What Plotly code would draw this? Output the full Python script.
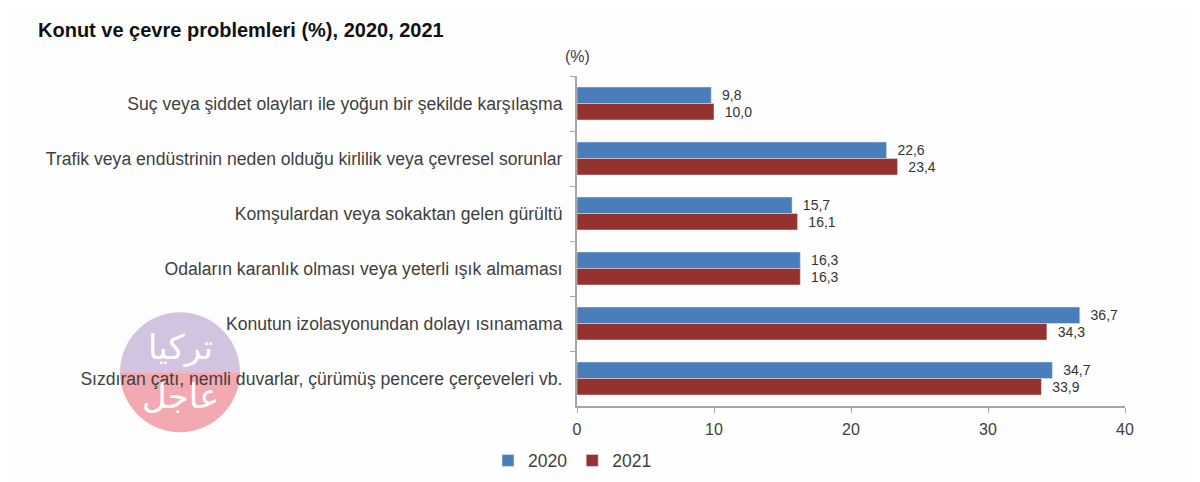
import plotly.graph_objects as go

categories = [
    "Suç veya şiddet olayları ile yoğun bir şekilde karşılaşma",
    "Trafik veya endüstrinin neden olduğu kirlilik veya çevresel sorunlar",
    "Komşulardan veya sokaktan gelen gürültü",
    "Odaların karanlık olması veya yeterli ışık almaması",
    "Konutun izolasyonundan dolayı ısınamama",
    "Sızdıran çatı, nemli duvarlar, çürümüş pencere çerçeveleri vb.",
]
values_2020 = [9.8, 22.6, 15.7, 16.3, 36.7, 34.7]
values_2021 = [10.0, 23.4, 16.1, 16.3, 34.3, 33.9]
x_ticks = [0, 10, 20, 30, 40]

W = 1200
H = 482
FONT = "Liberation Sans"
GREY = "#404040"
# the page puts the figure 8px in from the corner, so layout numbers are 8 less
PLOT_L = 569
PLOT_R = 1117
PLOT_T = 68
PLOT_B = 401


def px_x(x):
    return (x - PLOT_L) / (PLOT_R - PLOT_L)


def px_y(y):
    return (PLOT_B - y) / (PLOT_B - PLOT_T)


fig = go.Figure()
fig.add_trace(go.Bar(y=categories, x=values_2020, name="2020", orientation="h",
                     marker_color="#4a7ebb", texttemplate="\u00a0\u00a0%{x:.1f}",
                     textposition="outside", cliponaxis=False))
fig.add_trace(go.Bar(y=categories, x=values_2021, name="2021", orientation="h",
                     marker_color="#96322d", texttemplate="\u00a0\u00a0%{x:.1f}",
                     textposition="outside", cliponaxis=False))

# watermark: two half discs, anchored in pixels
k = 33
r = 60
top_half = f"M -{r},0 C -{r},{k} -{k},{r} 0,{r} C {k},{r} {r},{k} {r},0 Z"
bottom_half = f"M -{r},0 C -{r},-{k} -{k},-{r} 0,-{r} C {k},-{r} {r},-{k} {r},0 Z"
for path, colour in [(top_half, "#d2c3e0"), (bottom_half, "#f3a9b2")]:
    fig.add_shape(type="path", path=path, xsizemode="pixel", ysizemode="pixel",
                  xref="paper", yref="paper", xanchor=px_x(172), yanchor=px_y(367),
                  line_width=0, fillcolor=colour, layer="below")

for text, py in [("تركيا", 342), ("عاجل", 391)]:
    fig.add_annotation(text=text, xref="paper", yref="paper", x=px_x(172), y=px_y(py),
                       xanchor="center", yanchor="middle", showarrow=False,
                       font=dict(family="DejaVu Sans", size=34, color="white"))

fig.add_annotation(text="(%)", xref="paper", yref="paper", x=0, y=px_y(48),
                   xanchor="center", yanchor="middle", showarrow=False,
                   font=dict(family=FONT, size=16, color=GREY))

fig.update_layout(
    width=W,
    height=H,
    margin=dict(l=PLOT_L, r=W - PLOT_R, t=PLOT_T, b=H - PLOT_B),
    paper_bgcolor="#fefefe",
    plot_bgcolor="#fefefe",
    font=dict(family=FONT, size=14, color="#333333"),
    separators=",.",
    barmode="group",
    bargap=0.4,
    bargroupgap=0,
    title=dict(text="<b>Konut ve çevre problemleri (%), 2020, 2021</b>", x=30 / W, xanchor="left",
               y=1 - 22 / H, yanchor="middle", font=dict(family=FONT, size=20, color="#111111")),
    legend=dict(orientation="h", x=px_x(480), y=px_y(456),
                yanchor="middle", xanchor="left", traceorder="normal",
                font=dict(family=FONT, size=17.5, color=GREY)),
)
fig.update_xaxes(range=[0, 40], tickvals=x_ticks, showgrid=False, zeroline=False, showline=True,
                 linecolor="#a6a6a6", linewidth=2, ticks="outside", ticklen=5, tickcolor="#a6a6a6",
                 ticklabelstandoff=3, tickfont=dict(family=FONT, size=16, color=GREY))
fig.update_yaxes(autorange="reversed", showgrid=False, showline=True, linecolor="#a6a6a6",
                 linewidth=2, ticks="outside", ticklen=5, tickcolor="#a6a6a6", tickson="boundaries",
                 ticklabelstandoff=9, tickfont=dict(family=FONT, size=17.6, color=GREY))

fig.write_html("out.html")
